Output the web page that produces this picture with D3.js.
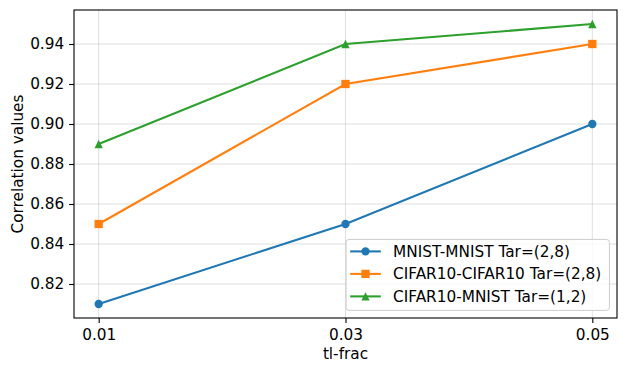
<!DOCTYPE html>
<html>
<head>
<meta charset="utf-8">
<script src="https://cdn.jsdelivr.net/npm/d3@7"></script>
<style>
  body { margin: 0; background: #fff; }
  svg text { font-family: "DejaVu Sans", sans-serif; font-size: 15.3px; }
</style>
</head>
<body>
<div id="chart"></div>
<script>
// data
var fracs = [0.01, 0.03, 0.05];
var xTicks = [0.01, 0.03, 0.05];
var yTicks = [0.82, 0.84, 0.86, 0.88, 0.90, 0.92, 0.94];
var seriesNames = ["MNIST-MNIST Tar=(2,8)", "CIFAR10-CIFAR10 Tar=(2,8)", "CIFAR10-MNIST Tar=(1,2)"];
var mnistMnist = [0.81, 0.85, 0.90];
var cifarCifar = [0.85, 0.92, 0.94];
var cifarMnist = [0.89, 0.94, 0.95];

var colors = ["#1f77b4", "#ff7f0e", "#2ca02c"];
var markers = ["circle", "square", "triangle"];

var series = [mnistMnist, cifarCifar, cifarMnist].map(function (vals, i) {
    return {
        name: seriesNames[i],
        color: colors[i],
        marker: markers[i],
        values: vals.map(function (v, j) { return {x: fracs[j], y: v}; })
    };
});

var W = 626, H = 373;
var margin = {top: 10, right: 9, bottom: 55, left: 74};
var width = W - margin.left - margin.right;
var height = H - margin.top - margin.bottom;
var fsPx = 15.3;
var fs = fsPx + "px";

var svg = d3.select("#chart").append("svg")
    .attr("width", W)
    .attr("height", H);

var g = svg.append("g")
    .attr("transform", "translate(" + margin.left + "," + margin.top + ")");

var x = d3.scaleLinear().domain([0.008, 0.052]).range([0, width]);
var y = d3.scaleLinear().domain([0.803, 0.957]).range([height, 0]);

// grid
g.append("g").selectAll("line").data(xTicks).enter().append("line")
    .attr("x1", function (d) { return x(d); })
    .attr("x2", function (d) { return x(d); })
    .attr("y1", 0).attr("y2", height)
    .attr("stroke", "#b0b0b0").attr("stroke-opacity", 0.4).attr("stroke-width", 1);
g.append("g").selectAll("line").data(yTicks).enter().append("line")
    .attr("y1", function (d) { return y(d); })
    .attr("y2", function (d) { return y(d); })
    .attr("x1", 0).attr("x2", width)
    .attr("stroke", "#b0b0b0").attr("stroke-opacity", 0.4).attr("stroke-width", 1);

// axes
var xAxis = g.append("g")
    .attr("transform", "translate(0," + height + ")")
    .call(d3.axisBottom(x).tickValues(xTicks).tickSize(4.9).tickPadding(4.9)
        .tickFormat(d3.format(".2f")));
var yAxis = g.append("g")
    .call(d3.axisLeft(y).tickValues(yTicks).tickSize(4.9).tickPadding(4.9)
        .tickFormat(d3.format(".2f")));
[xAxis, yAxis].forEach(function (a) {
    a.attr("font-size", null).attr("font-family", null);
    a.select(".domain").remove();
    a.selectAll(".tick line").attr("stroke", "#000").attr("stroke-width", 1.1);
    a.selectAll(".tick text").style("font-size", fs).attr("fill", "#000");
});
xAxis.selectAll(".tick text").attr("dy", "0.82em");

// frame
g.append("rect")
    .attr("width", width).attr("height", height)
    .attr("fill", "none").attr("stroke", "#000").attr("stroke-width", 1.1);

function drawMarker(sel, type, color, size) {
    if (type === "circle") {
        sel.append("circle").attr("r", size / 2).attr("fill", color);
    } else if (type === "square") {
        sel.append("rect").attr("x", -size / 2).attr("y", -size / 2)
            .attr("width", size).attr("height", size).attr("fill", color);
    } else {
        var s = size / 2;
        sel.append("path").attr("d", "M0," + (-s) + "L" + s + "," + s + "L" + (-s) + "," + s + "Z")
            .attr("fill", color);
    }
}

var line = d3.line()
    .x(function (d) { return x(d.x); })
    .y(function (d) { return y(d.y); });

series.forEach(function (s) {
    g.append("path")
        .datum(s.values)
        .attr("d", line)
        .attr("fill", "none")
        .attr("stroke", s.color)
        .attr("stroke-width", 2.08);
    g.selectAll(null).data(s.values).enter().append("g")
        .attr("transform", function (d) { return "translate(" + x(d.x) + "," + y(d.y) + ")"; })
        .each(function () { drawMarker(d3.select(this), s.marker, s.color, 8.3); });
});

// legend, sized like matplotlib's from the text widths
var pad = 0.4 * fsPx, handleLen = 2 * fsPx, textPad = 0.8 * fsPx, rowH = 22.5;
var legend = g.append("g");
var box = legend.append("rect").attr("rx", 3)
    .attr("fill", "#fff").attr("fill-opacity", 0.8)
    .attr("stroke", "#cccccc").attr("stroke-width", 1);
var maxW = 0;
series.forEach(function (s, i) {
    var row = legend.append("g").attr("transform", "translate(0," + (12 + i * rowH) + ")");
    row.append("line").attr("x1", pad - 2).attr("x2", pad - 2 + handleLen).attr("y1", 0).attr("y2", 0)
        .attr("stroke", s.color).attr("stroke-width", 2.08);
    var m = row.append("g").attr("transform", "translate(" + (pad - 2 + handleLen / 2) + ",0)");
    drawMarker(m, s.marker, s.color, 8.3);
    var t = row.append("text").attr("x", pad - 2 + handleLen + textPad).attr("y", 0).attr("dy", "0.36em")
        .style("font-size", fs).attr("fill", "#000").text(s.name);
    maxW = Math.max(maxW, t.node().getComputedTextLength());
});
var boxW = maxW + 2 * pad + handleLen + textPad, boxH = 71;
box.attr("width", boxW).attr("height", boxH);
legend.attr("transform", "translate(" + (width - 7.6 - boxW) + "," + (height - 7.6 - boxH) + ")");

// axis labels
svg.append("text")
    .attr("x", margin.left + width / 2).attr("y", 359)
    .attr("text-anchor", "middle").style("font-size", fs).text("tl-frac");
svg.append("text")
    .attr("transform", "translate(23," + (margin.top + height / 2) + ") rotate(-90)")
    .attr("text-anchor", "middle").style("font-size", fs).text("Correlation values");
</script>
</body>
</html>
